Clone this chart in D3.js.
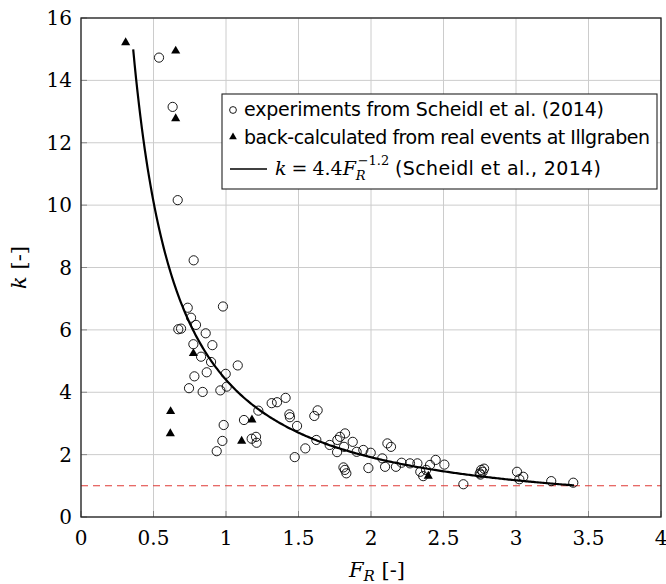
<!DOCTYPE html>
<html>
<head>
<meta charset="utf-8">
<script src="https://cdn.jsdelivr.net/npm/d3@7"></script>
<style>
  body { margin: 0; background: #fff; }
  .serif { font-family: "DejaVu Serif", serif; }
  .sans { font-family: "DejaVu Sans", sans-serif; }
</style>
</head>
<body>
<div id="chart"></div>
<script>
// experiments from Scheidl et al. (2014)
const expF = [0.538, 0.632, 0.667, 0.777, 0.736, 0.979, 0.759, 0.793, 0.671, 0.690,
  0.860, 0.775, 0.906, 0.828, 0.897, 1.081, 0.867, 0.782, 0.998, 1.005,
  0.745, 0.839, 0.961, 1.223, 1.315, 1.352, 0.984, 1.124, 0.975, 0.936,
  1.177, 1.207, 1.211, 1.411, 1.437, 1.441, 1.490, 1.609, 1.632, 1.474,
  1.547, 1.623, 1.715, 1.768, 1.786, 1.821, 1.766, 1.814, 1.874, 1.901,
  1.947, 1.998, 1.810, 1.820, 1.830, 1.982, 2.078, 2.097, 2.113, 2.138,
  2.172, 2.211, 2.269, 2.320, 2.340, 2.360, 2.380, 2.407, 2.446, 2.506,
  2.637, 2.750, 2.760, 2.770, 2.780, 2.755, 3.007, 3.050, 3.023, 3.243, 3.395];
const expK = [14.73, 13.15, 10.16, 8.23, 6.71, 6.75, 6.39, 6.16, 6.02, 6.04,
  5.89, 5.54, 5.51, 5.14, 4.97, 4.86, 4.64, 4.51, 4.59, 4.18,
  4.13, 4.01, 4.06, 3.41, 3.65, 3.68, 2.95, 3.11, 2.44, 2.11,
  2.51, 2.57, 2.38, 3.82, 3.29, 3.20, 2.92, 3.24, 3.42, 1.92,
  2.20, 2.47, 2.31, 2.47, 2.57, 2.68, 2.08, 2.25, 2.41, 2.09,
  2.15, 2.06, 1.59, 1.51, 1.40, 1.57, 1.88, 1.61, 2.36, 2.25,
  1.61, 1.74, 1.72, 1.72, 1.45, 1.31, 1.51, 1.67, 1.83, 1.68,
  1.05, 1.40, 1.51, 1.45, 1.55, 1.36, 1.45, 1.29, 1.21, 1.15, 1.10];

// back-calculated from real events at Illgraben
const backF = [0.308, 0.653, 0.653, 0.775, 0.618, 0.616, 1.179, 1.108, 2.395];
const backK = [15.24, 14.97, 12.80, 5.27, 3.41, 2.70, 3.14, 2.46, 1.34];

// fit k = 4.4 F_R^-1.2 and the range it is drawn over
const fitCoef = 4.4;
const fitExp = -1.2;
const fitRange = [0.36, 3.4];

const refK = 1;

const xTicks = [0, 0.5, 1, 1.5, 2, 2.5, 3, 3.5, 4];
const yTicks = [0, 2, 4, 6, 8, 10, 12, 14, 16];

const margin = {top: 18, right: 5, bottom: 67, left: 81};
const width = 666, height = 584;
const visWidth = width - margin.left - margin.right;
const visHeight = height - margin.top - margin.bottom;

const svg = d3.select("#chart").append("svg")
    .attr("width", width)
    .attr("height", height);

const g = svg.append("g")
    .attr("transform", `translate(${margin.left}, ${margin.top})`);

const x = d3.scaleLinear().domain([0, 4]).range([0, visWidth]);
const y = d3.scaleLinear().domain([0, 16]).range([visHeight, 0]);

// grid
const grid = g.append("g").attr("class", "grid");
grid.selectAll("line.gx")
  .data(xTicks)
  .join("line")
    .attr("class", "gx")
    .attr("x1", d => x(d)).attr("x2", d => x(d))
    .attr("y1", 0).attr("y2", visHeight)
    .attr("stroke", "#cccccc");
grid.selectAll("line.gy")
  .data(yTicks)
  .join("line")
    .attr("class", "gy")
    .attr("x1", 0).attr("x2", visWidth)
    .attr("y1", d => y(d)).attr("y2", d => y(d))
    .attr("stroke", "#cccccc");

// inward ticks
grid.selectAll("line.tx")
  .data(xTicks)
  .join("line")
    .attr("class", "tx")
    .attr("x1", d => x(d)).attr("x2", d => x(d))
    .attr("y1", visHeight).attr("y2", visHeight - 6)
    .attr("stroke", "#888");
grid.selectAll("line.ty")
  .data(yTicks)
  .join("line")
    .attr("class", "ty")
    .attr("x1", 0).attr("x2", 6)
    .attr("y1", d => y(d)).attr("y2", d => y(d))
    .attr("stroke", "#888");

// reference line k = 1
g.append("line")
  .attr("x1", x(0)).attr("x2", x(4))
  .attr("y1", y(refK)).attr("y2", y(refK))
  .attr("stroke", "#e03a36")
  .attr("stroke-width", 1.1)
  .attr("stroke-dasharray", "7,5");

// fit curve
const fitF = d3.range(fitRange[0], fitRange[1] + 1e-9, 0.01);
const line = d3.line()
  .x(d => x(d))
  .y(d => y(fitCoef * Math.pow(d, fitExp)));
g.append("path")
  .datum(fitF)
  .attr("fill", "none")
  .attr("stroke", "black")
  .attr("stroke-width", 2.2)
  .attr("d", line);

// experiment circles
g.append("g")
  .selectAll("circle")
  .data(expF.map((f, i) => ({f: f, k: expK[i]})))
  .join("circle")
    .attr("cx", d => x(d.f))
    .attr("cy", d => y(d.k))
    .attr("r", 4.6)
    .attr("fill", "none")
    .attr("stroke", "black")
    .attr("stroke-width", 0.9);

// back-calculated triangles
const tri = d3.symbol().type(d3.symbolTriangle).size(36);
g.append("g")
  .selectAll("path")
  .data(backF.map((f, i) => ({f: f, k: backK[i]})))
  .join("path")
    .attr("transform", d => `translate(${x(d.f)}, ${y(d.k) + 0.8})`)
    .attr("d", tri)
    .attr("fill", "black");

// frame
g.append("rect")
  .attr("width", visWidth)
  .attr("height", visHeight)
  .attr("fill", "none")
  .attr("stroke", "#222")
  .attr("stroke-width", 1.3);

// tick labels
g.append("g")
  .selectAll("text")
  .data(xTicks)
  .join("text")
    .attr("class", "serif")
    .attr("x", d => x(d))
    .attr("y", visHeight + 28)
    .attr("text-anchor", "middle")
    .attr("font-size", 20)
    .text(d => d3.format("")(d));
g.append("g")
  .selectAll("text")
  .data(yTicks)
  .join("text")
    .attr("class", "serif")
    .attr("x", -9)
    .attr("y", d => y(d))
    .attr("dy", "0.35em")
    .attr("text-anchor", "end")
    .attr("font-size", 20)
    .text(d => d);

// axis titles
const xt = g.append("text")
  .attr("class", "serif")
  .attr("x", visWidth / 2 + 6)
  .attr("y", visHeight + 60)
  .attr("text-anchor", "middle")
  .attr("font-size", 21);
xt.append("tspan").attr("font-style", "italic").text("F");
xt.append("tspan").attr("font-style", "italic").attr("font-size", 15).attr("dy", 4).text("R");
xt.append("tspan").attr("dy", -4).text(" [-]");

g.append("text")
  .attr("class", "serif")
  .attr("transform", `translate(${-55}, ${visHeight / 2}) rotate(-90)`)
  .attr("text-anchor", "middle")
  .attr("font-size", 21)
  .call(t => t.append("tspan").attr("font-style", "italic").text("k"))
  .call(t => t.append("tspan").text(" [-]"));

// legend
const lg = svg.append("g").attr("transform", "translate(222, 94)");
lg.append("rect")
  .attr("width", 435)
  .attr("height", 95)
  .attr("fill", "white")
  .attr("stroke", "#222")
  .attr("stroke-width", 1.1);

lg.append("circle")
  .attr("cx", 11).attr("cy", 16).attr("r", 3.4)
  .attr("fill", "none").attr("stroke", "black").attr("stroke-width", 0.9);
lg.append("text")
  .attr("class", "sans")
  .attr("x", 22).attr("y", 22)
  .attr("font-size", 19)
  .attr("textLength", 360)
  .text("experiments from Scheidl et al. (2014)");

lg.append("path")
  .attr("transform", "translate(11, 43)")
  .attr("d", d3.symbol().type(d3.symbolTriangle).size(26))
  .attr("fill", "black");
lg.append("text")
  .attr("class", "sans")
  .attr("x", 22).attr("y", 50)
  .attr("font-size", 19)
  .attr("textLength", 406)
  .text("back-calculated from real events at Illgraben");

lg.append("line")
  .attr("x1", 8).attr("x2", 45)
  .attr("y1", 75).attr("y2", 75)
  .attr("stroke", "black").attr("stroke-width", 1.4);
const ft = lg.append("text")
  .attr("class", "serif")
  .attr("x", 53).attr("y", 81)
  .attr("font-size", 19);
ft.append("tspan").attr("font-style", "italic").text("k");
ft.append("tspan").attr("dx", 5).text("=");
ft.append("tspan").attr("dx", 5).text("4.4");
ft.append("tspan").attr("font-style", "italic").text("F");
ft.append("tspan").attr("font-style", "italic").attr("font-size", 13).attr("dy", 5).text("R");
ft.append("tspan").attr("font-size", 13).attr("dx", -8).attr("dy", -15).text("\u22121.2");
lg.append("text")
  .attr("class", "sans")
  .attr("x", 173).attr("y", 81)
  .attr("font-size", 19)
  .attr("textLength", 206)
  .text("(Scheidl et al., 2014)");
</script>
</body>
</html>
